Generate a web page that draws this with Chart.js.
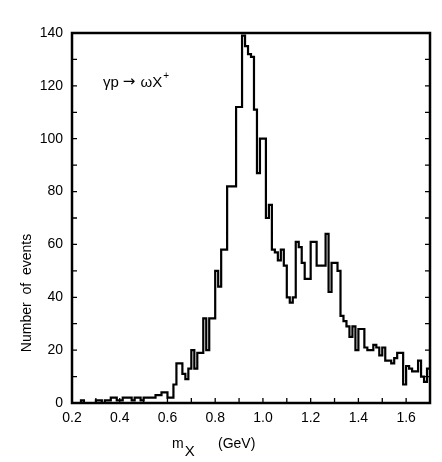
<!DOCTYPE html>
<html><head><meta charset="utf-8">
<script src="https://cdn.jsdelivr.net/npm/chart.js@4.4.0/dist/chart.umd.min.js"></script>
<style>html,body{margin:0;padding:0;background:#fff;} canvas{display:block;}</style>
</head><body>
<canvas id="c" width="442" height="462"></canvas>
<script>
// ---- data ----
const binStartGeV = 0.2;
const binWidthGeV = 0.0125;
const counts = [
  0, 0, 0, 1, 0, 0, 0, 0, 1, 1,
  0, 1, 1, 2, 2, 1, 1, 2, 2, 2,
  1, 2, 2, 1, 2, 2, 2, 2, 3, 3,
  4, 4, 2, 2, 7, 15, 15, 11, 9, 13,
  20, 13, 19, 19, 32, 20, 32, 32, 50, 44,
  58, 58, 82, 82, 82, 112, 112, 139, 135, 132,
  131, 111, 87, 100, 100, 70, 75, 58, 57, 54,
  58, 52, 40, 38, 40, 61, 59, 53, 47, 47,
  61, 61, 52, 52, 52, 64, 42, 53, 53, 50,
  33, 31, 29, 25, 29, 20, 28, 28, 21, 20,
  20, 22, 21, 18, 21, 16, 16, 15, 17, 19,
  19, 7, 14, 13, 12, 12, 16, 10, 8, 13
];
const xRange = [0.2, 1.7];
const yRange = [0, 140];
const xMajorStep = 0.2, xMinorStep = 0.1;
const yMajorStep = 20, yMinorStep = 10;
const yTitleText = 'Number  of  events';
const xTitleMain = 'm';
const xTitleSub = 'X';
const xTitleUnit = '(GeV)';
const reactionParts = ['γp', '→', 'ωX'];
const reactionSup = '+';
const reactionAt = {x: 0.33, y: 119.5};

// histogram edges built from the bins
const points = counts.map((c, i) => ({x: binStartGeV + i * binWidthGeV, y: c}));
points.push({x: binStartGeV + counts.length * binWidthGeV, y: counts[counts.length - 1]});

const FONT = '"Liberation Sans", Arial, sans-serif';

const framePlugin = {
  id: 'frame',
  afterDraw(chart) {
    const {ctx, chartArea: a, scales} = chart;
    const xs = scales.x, ys = scales.y;
    ctx.save();
    ctx.strokeStyle = '#000';
    ctx.lineWidth = 2.5;
    ctx.strokeRect(a.left, a.top, a.right - a.left, a.bottom - a.top);
    ctx.lineWidth = 1.3;
    ctx.beginPath();
    for (let v = xRange[0]; v <= xRange[1] + 1e-9; v += xMinorStep) {
      const px = xs.getPixelForValue(v);
      ctx.moveTo(px, a.bottom); ctx.lineTo(px, a.bottom - 5);
    }
    for (let v = yRange[0]; v <= yRange[1] + 1e-9; v += yMinorStep) {
      const py = ys.getPixelForValue(v);
      ctx.moveTo(a.left, py); ctx.lineTo(a.left + 5, py);
      ctx.moveTo(a.right, py); ctx.lineTo(a.right - 5, py);
    }
    ctx.stroke();

    ctx.fillStyle = '#000';
    ctx.textAlign = 'left';
    ctx.textBaseline = 'alphabetic';
    let rx = xs.getPixelForValue(reactionAt.x);
    const ry = ys.getPixelForValue(reactionAt.y);
    ctx.font = '15px ' + FONT;
    ctx.fillText(reactionParts[0], rx, ry);
    rx += ctx.measureText(reactionParts[0]).width + 4;
    ctx.font = '15px "DejaVu Sans", sans-serif';
    ctx.fillText(reactionParts[1], rx, ry - 1);
    rx += ctx.measureText(reactionParts[1]).width + 5;
    ctx.font = '15px ' + FONT;
    ctx.fillText(reactionParts[2], rx, ry);
    rx += ctx.measureText(reactionParts[2]).width + 1;
    ctx.font = '10px ' + FONT;
    ctx.fillText(reactionSup, rx, ry - 8);

    ctx.font = '14px ' + FONT;
    const mx = a.left + 100;
    const my = a.bottom + 45;
    ctx.fillText(xTitleMain, mx, my);
    const mw = ctx.measureText(xTitleMain).width;
    ctx.font = '15px ' + FONT;
    ctx.fillText(xTitleSub, mx + mw + 1, my + 8);
    ctx.font = '14px ' + FONT;
    ctx.fillText(xTitleUnit, a.left + 146, my);

    ctx.save();
    ctx.translate(a.left - 45, a.bottom - 110);
    ctx.rotate(-Math.PI / 2);
    ctx.textAlign = 'center';
    ctx.textBaseline = 'middle';
    ctx.font = '14px ' + FONT;
    ctx.fillText(yTitleText, 0, 0);
    ctx.restore();
    ctx.restore();
  }
};

new Chart(document.getElementById('c'), {
  type: 'line',
  data: {
    datasets: [{
      data: points,
      stepped: 'before',
      borderColor: '#000',
      borderWidth: 2.2,
      pointRadius: 0,
      fill: false,
      tension: 0
    }]
  },
  options: {
    responsive: false,
    animation: false,
    events: [],
    layout: {padding: {top: 33, right: 12, left: 0, bottom: 0}},
    plugins: {legend: {display: false}, tooltip: {enabled: false}},
    scales: {
      x: {
        type: 'linear',
        min: xRange[0], max: xRange[1],
        grid: {display: false, drawTicks: false},
        border: {display: false},
        ticks: {
          stepSize: xMajorStep, includeBounds: false, padding: 7,
          color: '#000', font: {family: FONT, size: 14},
          maxRotation: 0, autoSkip: false,
          callback: v => v.toFixed(1)
        },
        afterFit: s => { s.height = 59; }
      },
      y: {
        type: 'linear',
        min: yRange[0], max: yRange[1],
        grid: {display: false, drawTicks: false},
        border: {display: false},
        ticks: {
          stepSize: yMajorStep, padding: 9,
          color: '#000', font: {family: FONT, size: 14}
        },
        afterFit: s => { s.width = 72; }
      }
    }
  },
  plugins: [framePlugin]
});
</script>
</body></html>
